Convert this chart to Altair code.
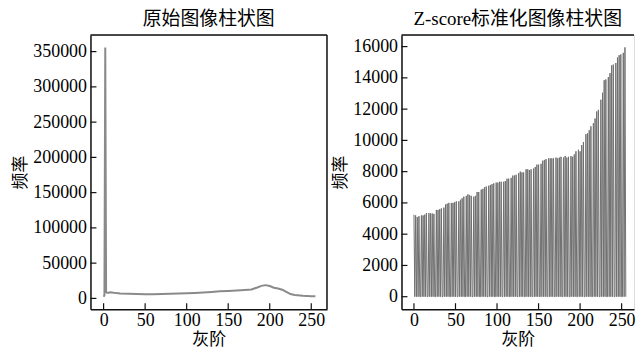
import altair as alt
import pandas as pd

# ---------------- data ----------------
orig_levels = [0, 1, 2, 3, 4, 6, 8, 10, 15, 20, 30, 40, 50, 60, 70, 80, 90, 100,
               110, 120, 130, 140, 150, 160, 170, 178, 185, 190, 195, 200, 205,
               210, 215, 220, 225, 230, 240, 250, 255]
orig_counts = [2500, 4500, 356000, 9000, 8000, 8000, 8800, 8500, 7500, 7000, 6500,
               6200, 6000, 6000, 6200, 6500, 6800, 7200, 7800, 8400, 9200, 10000,
               10600, 11300, 12000, 12600, 15500, 17800, 18800, 17500, 15200,
               14000, 12300, 9200, 6200, 4800, 3700, 3000, 3200]

z_levels = [0, 2, 4, 6, 9, 11, 13, 15, 18, 20, 22, 24, 27, 29, 31, 33, 36, 38, 40, 42,
            45, 47, 49, 51, 54, 56, 58, 60, 63, 65, 67, 69, 72, 74, 76, 78, 81, 83, 85, 87,
            90, 92, 94, 96, 99, 101, 103, 105, 108, 110, 112, 114, 117, 119, 121, 123,
            126, 128, 130, 132, 135, 137, 139, 141, 144, 146, 148, 150, 153, 155, 157, 159,
            162, 164, 166, 168, 171, 173, 175, 177, 180, 182, 184, 186, 189, 191, 193, 195,
            198, 200, 202, 204, 207, 209, 211, 213, 216, 218, 220, 222, 225, 227, 229, 231,
            234, 236, 238, 240, 243, 245, 247, 249, 252, 254]
z_counts = [5250, 5200, 5100, 5150, 5200, 5200, 5250, 5350, 5350, 5330, 5320, 5300,
            5550, 5550, 5600, 5650, 5700, 5900, 5950, 6000, 6000, 6000, 6050, 6100,
            6100, 6200, 6300, 6400, 6450, 6550, 6500, 6450, 6400, 6450, 6700, 6700,
            6850, 6900, 7000, 7050, 7100, 7150, 7200, 7250, 7300, 7300, 7350, 7350,
            7350, 7400, 7550, 7550, 7600, 7750, 7750, 7800, 7900, 8000, 7950, 7950,
            8150, 8150, 8100, 8150, 8200, 8300, 8450, 8450, 8500, 8700, 8750, 8800,
            8850, 8850, 8850, 8850, 8900, 8850, 8900, 8950, 8900, 9000, 8900, 8950,
            9000, 8950, 9100, 9300, 9400, 9300, 9700, 9900, 10400, 10450, 10650, 10900,
            11100, 11400, 11850, 11950, 12600, 13050, 13850, 13900, 14050, 14300, 14800, 14850,
            14950, 15300, 15450, 15500, 15600, 15950]

x_ticks = [0, 50, 100, 150, 200, 250]
y_ticks_orig = [0, 50000, 100000, 150000, 200000, 250000, 300000, 350000]
y_ticks_z = [0, 2000, 4000, 6000, 8000, 10000, 12000, 14000, 16000]

# histogram table (empty bins are zero)
z_map = dict(zip(z_levels, z_counts))
df_orig = pd.DataFrame({"level": orig_levels, "count": orig_counts})
df_z = pd.DataFrame({"level": list(range(256)),
                     "count": [z_map.get(i, 0) for i in range(256)]})

# ---------------- layout ----------------
W1, W2, H = 238, 234, 276
X1 = [-15.8, 268.9]
X2 = [-15.0, 264.9]
Y1 = [-15280, 373680]
Y2 = [-797, 16747]

LABEL_FONT = "Liberation Serif"
CJK = "Noto Sans CJK SC"
FRAME = "#111111"


def make_axis(title, values, pad, tpad):
    return alt.Axis(values=values, format="d", ticks=False, grid=False,
                    labelFont=LABEL_FONT, labelFontSize=18, labelColor="black",
                    labelPadding=pad, labelFlush=False, labelOverlap=False,
                    domainColor=FRAME, domainWidth=1.5,
                    title=title, titleFont=CJK, titleFontSize=17, titlePadding=tpad,
                    titleFontWeight="normal", titleColor="black")


def panel(df, xdom, ydom, yticks, width, title, color, sw, right_frame, ytp):
    xs = alt.Scale(domain=xdom, nice=False, zero=False)
    ys = alt.Scale(domain=ydom, nice=False, zero=False)
    xa = make_axis("灰阶", x_ticks, 2, 3)
    ya = make_axis("频率", yticks, 4, ytp)
    line = alt.Chart(df).mark_line(color=color, strokeWidth=sw).encode(
        x=alt.X("level:Q", scale=xs, axis=xa),
        y=alt.Y("count:Q", scale=ys, axis=ya),
    )
    ytk = alt.Chart(pd.DataFrame({"level": [0] * len(yticks), "count": yticks})).mark_rule(
        color=FRAME, strokeWidth=1.2).encode(
        y=alt.Y("count:Q", scale=ys, axis=ya), x=alt.value(0), x2=alt.value(6))
    xtk = alt.Chart(pd.DataFrame({"level": x_ticks, "count": [0] * len(x_ticks)})).mark_rule(
        color=FRAME, strokeWidth=1.2).encode(
        x=alt.X("level:Q", scale=xs, axis=xa), y=alt.value(H), y2=alt.value(H - 6))
    one = pd.DataFrame({"a": [0]})
    top = alt.Chart(one).mark_rule(color=FRAME, strokeWidth=1.5).encode(
        x=alt.value(0), x2=alt.value(width), y=alt.value(0))
    layers = [line, ytk, xtk, top]
    if right_frame:
        layers.append(alt.Chart(one).mark_rule(color=FRAME, strokeWidth=1.5).encode(
            x=alt.value(width), y=alt.value(0), y2=alt.value(H)))
    return alt.layer(*layers).properties(
        width=width, height=H,
        title=alt.TitleParams(text=title, font="Liberation Serif, Noto Sans CJK SC",
                              fontSize=19, fontWeight="normal", color="black",
                              offset=5, anchor="middle"),
    )


left = panel(df_orig, X1, Y1, y_ticks_orig, W1, "原始图像柱状图", "#8a8a8a", 2, True, 3)
right = panel(df_z, X2, Y2, y_ticks_z, W2, "Z-score标准化图像柱状图", "#707070", 1, False, 3)

chart = alt.hconcat(left, right, spacing=2).properties(
    padding={"left": 3, "top": 0, "right": 0, "bottom": 0}
).configure_view(strokeWidth=0).configure(background="white")

chart.save("out.html", embed_options={"renderer": "svg", "actions": False})
